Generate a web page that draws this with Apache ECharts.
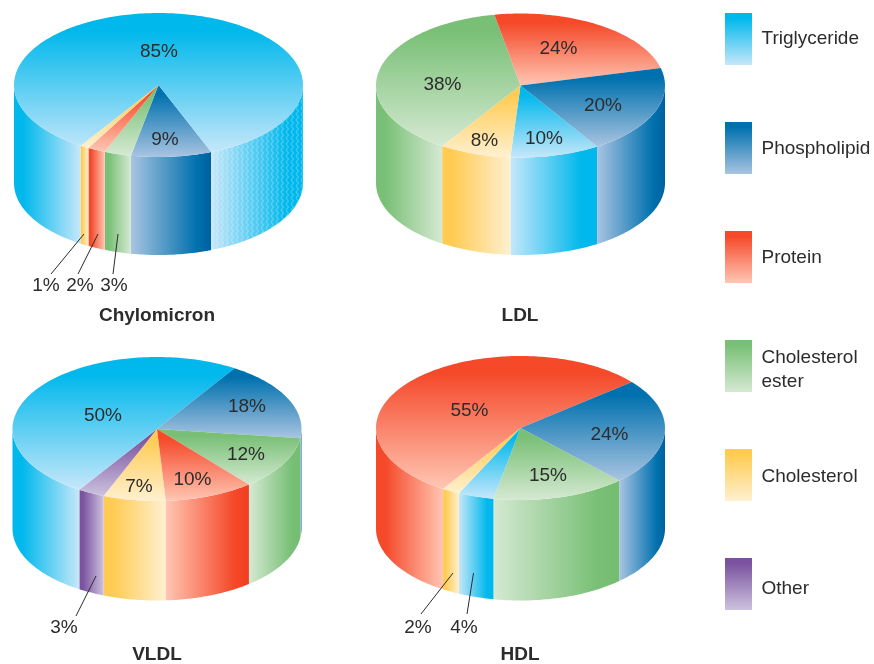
<!DOCTYPE html>
<html>
<head>
<meta charset="utf-8">
<style>html,body{margin:0;padding:0;background:#fff}#c{width:874px;height:664px}</style>
<script src="https://cdn.jsdelivr.net/npm/echarts@6/dist/echarts.min.js"></script>
</head>
<body>
<div id="c"></div>
<script>
// ---------- data ----------
const chylomicronParts = ['Phospholipid','Cholesterol ester','Protein','Cholesterol','Triglyceride'];
const chylomicronValues = [9,3,2,1,85];
const ldlParts = ['Triglyceride','Cholesterol','Cholesterol ester','Protein','Phospholipid'];
const ldlValues = [10,8,38,24,20];
const vldlParts = ['Cholesterol','Other','Triglyceride','Phospholipid','Cholesterol ester','Protein'];
const vldlValues = [7,3,50,18,12,10];
const hdlParts = ['Cholesterol ester','Triglyceride','Cholesterol','Protein','Phospholipid'];
const hdlValues = [15,4,2,55,24];
const legendNames = ['Triglyceride','Phospholipid','Protein','Cholesterol ester','Cholesterol','Other'];

// ---------- styles ----------
const INK = '#2c2c2c';
const FONT = '"Liberation Sans", Arial, sans-serif';
const COLORS = {
  'Triglyceride':      {dark:'#00b8ec', light:'#c6e7fa', end:'#00b8ec'},
  'Phospholipid':      {dark:'#0071ae', light:'#a9c4e1', end:'#00609f'},
  'Protein':           {dark:'#f5492a', light:'#ffc6b3', end:'#f23d20'},
  'Cholesterol ester': {dark:'#79c076', light:'#d5e9d2', end:'#74bc70'},
  'Cholesterol':       {dark:'#ffcb52', light:'#fff0d0', end:'#ffcb52'},
  'Other':             {dark:'#7b529f', light:'#ccc2df', end:'#7b529f'}
};

// ---------- layout ----------
const RX = 144.5, RY = 72;
const TEXT_SHIFT = 0.8;
const PIES = [
  {name:'Chylomicron', parts:chylomicronParts, values:chylomicronValues, cx:158.5, cy:85, depth:98, start:68.6, titleX:157, titleY:315,
   inside:{'Triglyceride':[0.5,-34],'Phospholipid':[6.5,54]},
   outside:{'Cholesterol':[46,285,51,274,84,234],'Protein':[80,285,78,274,98,234],'Cholesterol ester':[114,285,113,274,118,234]}},
  {name:'LDL', parts:ldlParts, values:ldlValues, cx:520.5, cy:85.5, depth:97.5, start:58, titleX:520, titleY:315,
   inside:{'Protein':[38,-38],'Cholesterol ester':[-78,-1.5],'Phospholipid':[82.5,19.5],'Triglyceride':[23.5,52],'Cholesterol':[-36,54]},
   outside:{}},
  {name:'VLDL', parts:vldlParts, values:vldlValues, cx:157, cy:429, depth:99.5, start:86.5, titleX:157, titleY:654,
   inside:{'Triglyceride':[-54,-14],'Phospholipid':[90,-23],'Cholesterol ester':[89,25],'Protein':[35.5,50],'Cholesterol':[-18,57]},
   outside:{'Other':[64,627,76,616,96,576]}},
  {name:'HDL', parts:hdlParts, values:hdlValues, cx:520.5, cy:428, depth:100.5, start:46.8, titleX:520, titleY:654,
   inside:{'Protein':[-51,-18],'Phospholipid':[89,6],'Cholesterol ester':[27.5,47]},
   outside:{'Cholesterol':[418,627,421,614,453,573],'Triglyceride':[464,627,467,614,473.5,573]}}
];
const DARK_RIGHT_EXCEPTION = {HDL:'Triglyceride'};
const LEGEND_X = 725, LEGEND_W = 27, LEGEND_H = 52;
const LEGEND_Y = [13,122,231,340,449,558];
const LEGEND_TEXT_Y = [[38],[148],[257],[357,381],[476],[588]];
const LEGEND_LINES = {'Cholesterol ester':['Cholesterol','ester']};

const G = echarts.graphic;
function vGrad(c){ return new G.LinearGradient(0,0,0,1,[{offset:0,color:c.dark},{offset:.13,color:c.dark},{offset:1,color:c.light}]); }
function sideGrad(c,darkRight){
  return darkRight
    ? new G.LinearGradient(0,0,1,0,[{offset:0,color:c.light},{offset:.82,color:c.dark},{offset:1,color:c.end}])
    : new G.LinearGradient(0,0,1,0,[{offset:0,color:c.dark},{offset:.14,color:c.dark},{offset:1,color:c.light}]);
}
function weavePattern(){
  const cv=document.createElement('canvas'); cv.width=5; cv.height=6;
  const x=cv.getContext('2d');
  x.strokeStyle='rgba(255,255,255,0.24)'; x.lineWidth=1.2;
  x.beginPath(); x.moveTo(1,0); x.lineTo(3.5,3); x.lineTo(1,6); x.stroke();
  return {image:cv,repeat:'repeat'};
}
const weave = weavePattern();

function arc(p,t0,t1,dy){
  const pts=[], n=Math.max(2,Math.ceil(Math.abs(t1-t0)));
  for(let i=0;i<=n;i++){
    const a=(t0+(t1-t0)*i/n)*Math.PI/180;
    pts.push([p.cx+RX*Math.cos(a), p.cy+RY*Math.sin(a)+dy]);
  }
  return pts;
}
function txt(s,x,y,weight){
  return {type:'text',z2:20,silent:true,style:{text:s,x:x,y:y+TEXT_SHIFT,align:'center',verticalAlign:'middle',
    fill:INK,font:(weight||'normal')+' 19px '+FONT}};
}
function renderSlice(p){
  const total=p.values.reduce((a,b)=>a+b,0);
  return function(params,api){
    const i=params.dataIndex, name=p.parts[i], c=COLORS[name];
    let acc=0; for(let k=0;k<i;k++) acc+=api.value(0,k);
    const t0=p.start+acc/total*360, t1=t0+api.value(0)/total*360;
    const kids=[];
    // top face
    kids.push({type:'polygon',z2:5,shape:{points:[[p.cx,p.cy]].concat(arc(p,t0,t1,0))},style:{fill:vGrad(c)}});
    // side faces: the front half of the ellipse only (0..180, and 360..540)
    [[0,180],[360,540]].forEach(function(win){
      const a=Math.max(t0,win[0]), b=Math.min(t1,win[1]);
      if(b<=a) return;
      const up=arc(p,a,b,0), low=arc(p,b,a,p.depth), pts=up.concat(low);
      const amid=((a+b)/2)%360;
      const darkRight = amid<90 || DARK_RIGHT_EXCEPTION[p.name]===name;
      kids.push({type:'polygon',z2:4,shape:{points:pts},style:{fill:sideGrad(c,darkRight)}});
      if(p.name==='Chylomicron' && name==='Triglyceride' && darkRight){
        kids.push({type:'polygon',z2:4,shape:{points:pts},style:{fill:weave}});
      }
    });
    // labels
    const val=api.value(0)+'%';
    if(p.inside[name]) kids.push(txt(val,p.cx+p.inside[name][0],p.cy+p.inside[name][1]));
    if(p.outside[name]){
      const o=p.outside[name];
      kids.push(txt(val,o[0],o[1]));
      kids.push({type:'line',z2:21,shape:{x1:o[2],y1:o[3],x2:o[4],y2:o[5]},style:{stroke:'#2c2c2c',lineWidth:1}});
    }
    if(i===0) kids.push(txt(p.name,p.titleX,p.titleY,'bold'));
    return {type:'group',children:kids};
  };
}
function renderLegend(params,api){
  const i=params.dataIndex, name=legendNames[i], c=COLORS[name], y=LEGEND_Y[i];
  const kids=[{type:'rect',shape:{x:LEGEND_X,y:y,width:LEGEND_W,height:LEGEND_H},
    style:{fill:new G.LinearGradient(0,0,0,1,[{offset:0,color:c.dark},{offset:.1,color:c.dark},{offset:1,color:c.light}])}}];
  (LEGEND_LINES[name]||[name]).forEach(function(s,k){
    kids.push({type:'text',style:{text:s,x:761.5,y:LEGEND_TEXT_Y[i][k]+TEXT_SHIFT,align:'left',verticalAlign:'middle',fill:INK,font:'normal 19px '+FONT}});
  });
  return {type:'group',children:kids};
}
const series = PIES.map(function(p){
  return {type:'custom',name:p.name,coordinateSystem:'none',renderItem:renderSlice(p),
    data:p.values.map(function(v,i){return {name:p.parts[i],value:[v]};}),animation:false,silent:true,clip:false};
});
series.push({type:'custom',name:'legend',coordinateSystem:'none',renderItem:renderLegend,
  data:legendNames.map(function(n,i){return {name:n,value:[i]};}),animation:false,silent:true});

const chart = echarts.init(document.getElementById('c'),null,{renderer:'canvas',width:874,height:664});
chart.setOption({animation:false,backgroundColor:'#fff',series:series});
</script>
</body>
</html>
